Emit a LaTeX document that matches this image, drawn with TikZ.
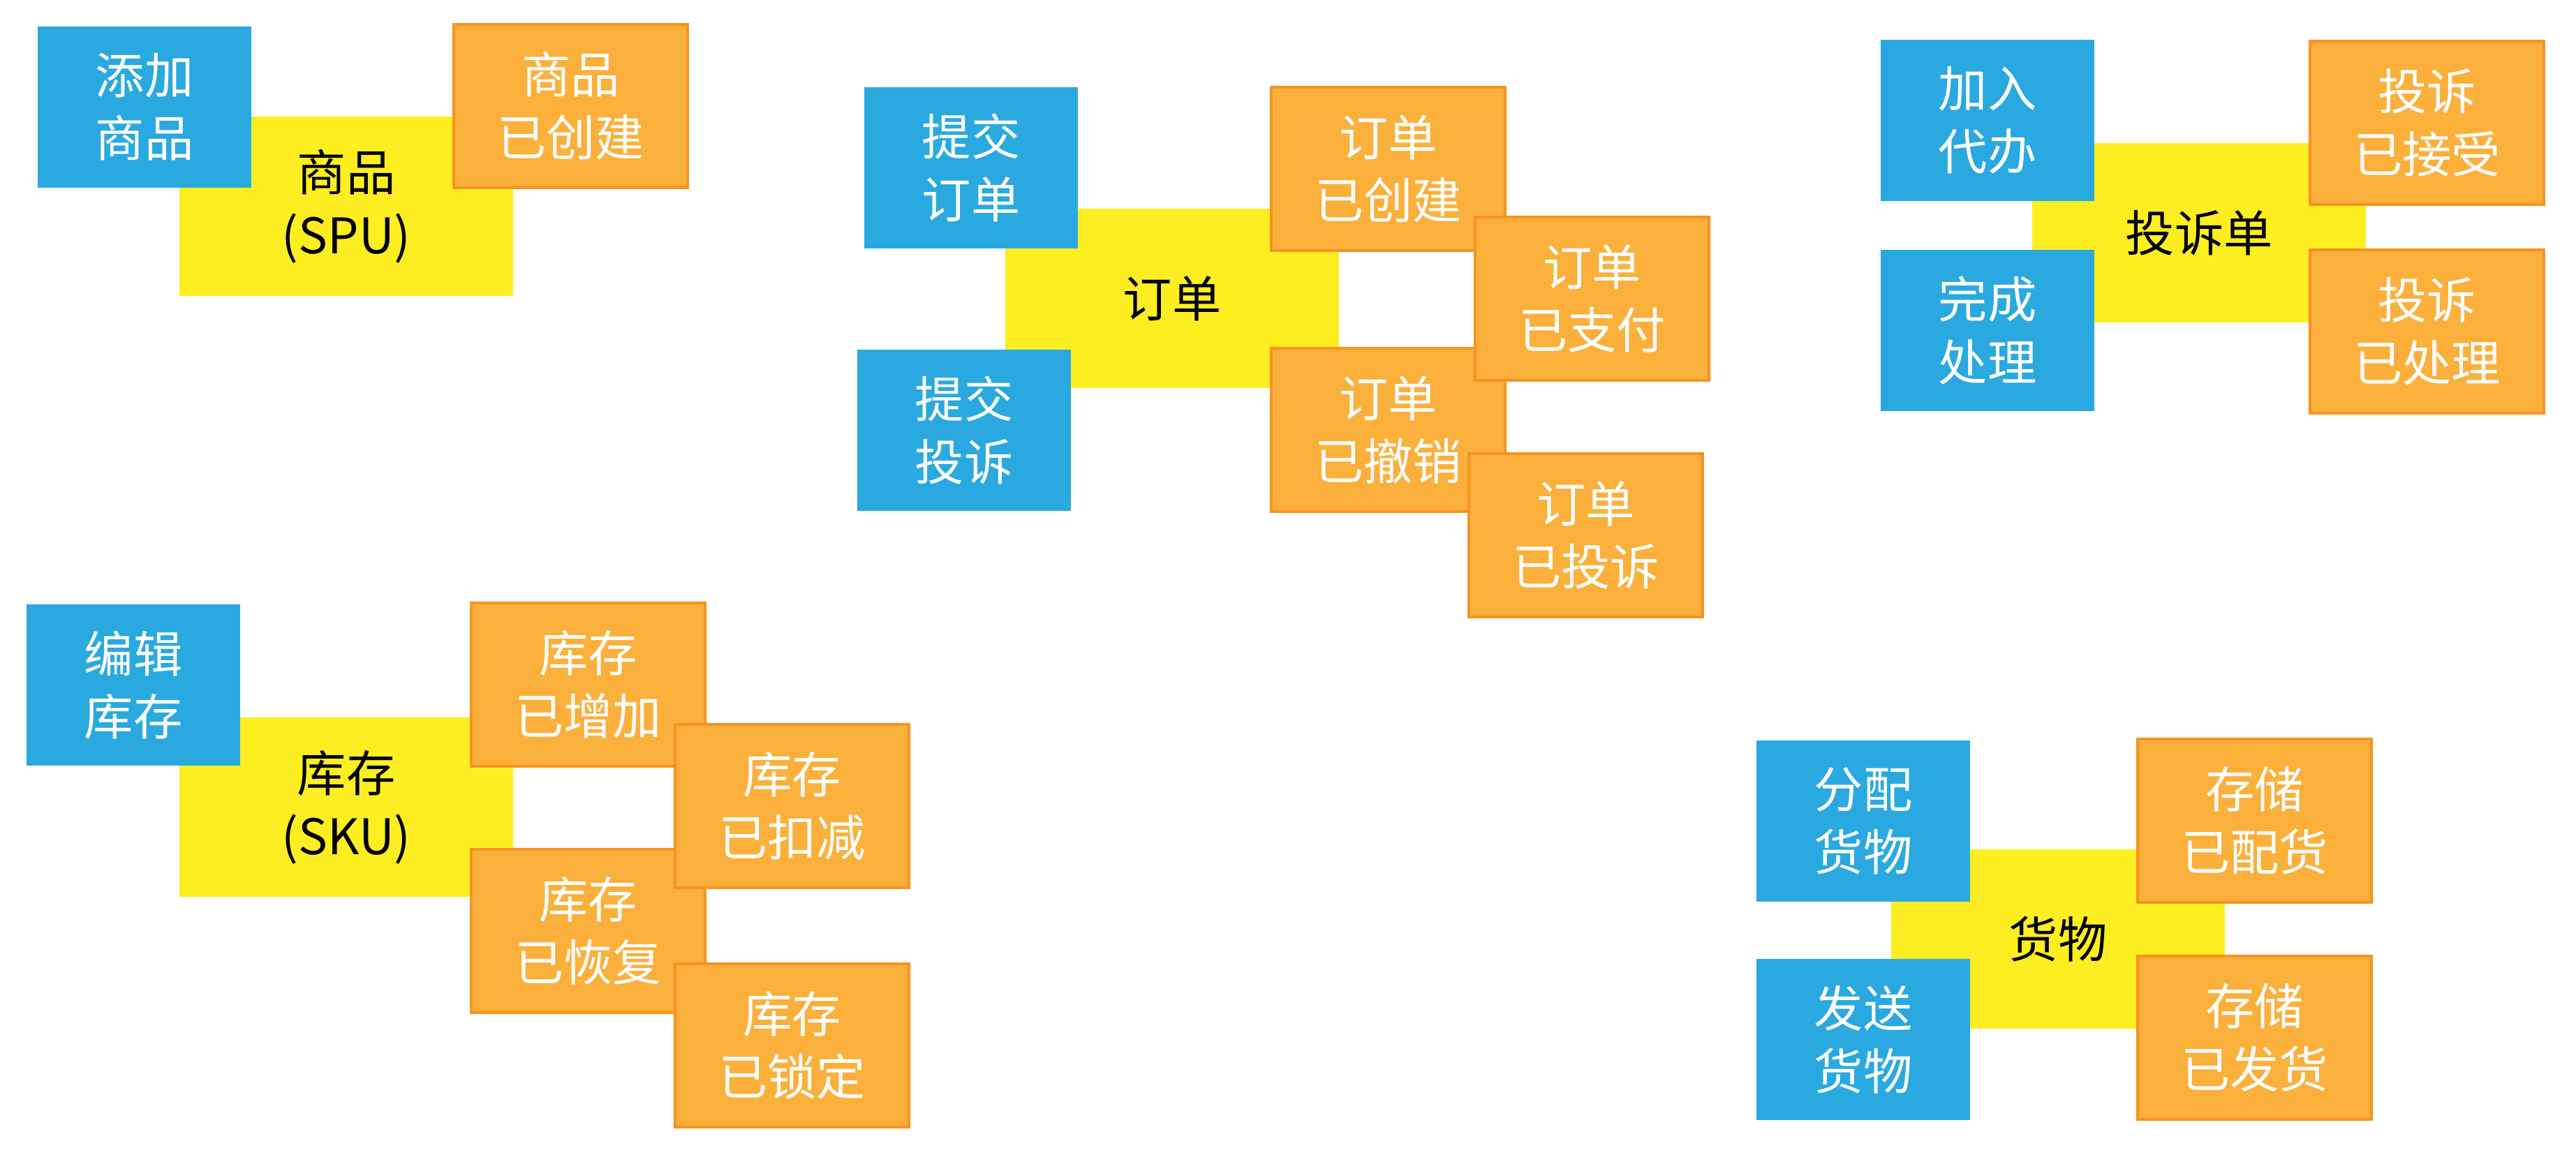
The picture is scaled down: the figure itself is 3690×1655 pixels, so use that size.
\documentclass[tikz,border=0pt]{standalone}
\usepackage{fontspec}
\setmainfont{Noto Sans CJK SC}
\definecolor{bluebox}{RGB}{41,169,224}
\definecolor{yellowbox}{RGB}{252,238,33}
\definecolor{orangefill}{RGB}{251,176,59}
\definecolor{orangeline}{RGB}{247,147,30}
\tikzset{
  base/.style={rectangle, inner sep=0pt, outer sep=0pt, anchor=north west, align=center,
    font=\fontsize{20pt}{25.6pt}\selectfont},
  cmdbox/.style={base, fill=bluebox, text=white, minimum width=3.06cm, minimum height=2.31cm},
  aggbox/.style={base, fill=yellowbox, text=black, minimum width=4.78cm, minimum height=2.57cm},
  evtbox/.style={base, fill=orangefill, draw=orangeline, line width=0.035cm, text=white,
    minimum width=3.35cm, minimum height=2.34cm},
}
\begin{document}
\begin{tikzpicture}[x=0.01cm, y=-0.01cm]
\fill[white] (0,0) rectangle (3690,1655);
\useasboundingbox (0,0) rectangle (3690,1655);

% Group 1: 商品 (SPU)
\node[aggbox] (spu) at (257,167) {商品\\(SPU)};
\node[cmdbox] (addspu) at (54,38) {添加\\商品};
\node[evtbox] (spucreated) at (650,35) {商品\\已创建};

% Group 2: 订单
\node[aggbox] (order) at (1440,299) {订单};
\node[cmdbox] (submitorder) at (1238,125) {提交\\订单};
\node[cmdbox] (submitcomplaint) at (1228,501) {提交\\投诉};
\node[evtbox] (ordercreated) at (1821,125) {订单\\已创建};
\node[evtbox] (ordercancelled) at (1821,499) {订单\\已撤销};
\node[evtbox] (orderpaid) at (2113,311) {订单\\已支付};
\node[evtbox] (ordercomplained) at (2104,650) {订单\\已投诉};

% Group 3: 投诉单
\node[aggbox] (complaint) at (2911,205) {投诉单};
\node[cmdbox] (addtodo) at (2694,57) {加入\\代办};
\node[cmdbox] (finish) at (2694,358) {完成\\处理};
\node[evtbox] (accepted) at (3309,59) {投诉\\已接受};
\node[evtbox] (handled) at (3309,358) {投诉\\已处理};

% Group 4: 库存 (SKU)
\node[aggbox] (sku) at (257,1028) {库存\\(SKU)};
\node[cmdbox] (editsku) at (38,866) {编辑\\库存};
\node[evtbox] (skuadded) at (675,864) {库存\\已增加};
\node[evtbox] (skurestored) at (675,1217) {库存\\已恢复};
\node[evtbox] (skudeducted) at (967,1038) {库存\\已扣减};
\node[evtbox] (skulocked) at (967,1381) {库存\\已锁定};

% Group 5: 货物
\node[aggbox] (goods) at (2709,1217) {货物};
\node[cmdbox] (allocate) at (2516,1061) {分配\\货物};
\node[cmdbox] (ship) at (2516,1374) {发送\\货物};
\node[evtbox] (allocated) at (3062,1059) {存储\\已配货};
\node[evtbox] (shipped) at (3062,1370) {存储\\已发货};
\end{tikzpicture}
\end{document}
